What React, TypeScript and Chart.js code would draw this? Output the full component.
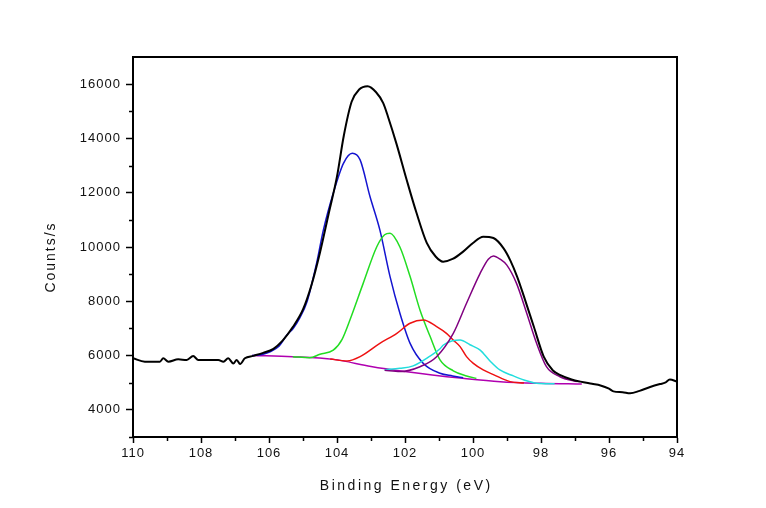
import React, { useEffect, useRef } from 'react';
import { Chart, registerables } from 'chart.js';

Chart.register(...registerables);

// ---- axis ticks ----
const xTickValues = [110, 108, 106, 104, 102, 100, 98, 96, 94];
const xMinorTicks = [109, 107, 105, 103, 101, 99, 97, 95];
const yTickValues = [4000, 6000, 8000, 10000, 12000, 14000, 16000];
const yMinorTicks = [3000, 5000, 7000, 9000, 11000, 13000, 15000];
const xTitle = 'Binding Energy (eV)';
const yTitle = 'Counts/s';

// ---- measured envelope (black) ----
const totalEnergy = [110.0, 109.65, 109.21, 109.11, 108.96, 108.67, 108.42, 108.23, 108.08, 107.8, 107.49, 107.34, 107.2, 107.05, 106.95, 106.85, 106.71, 106.46, 106.17, 105.87, 105.6, 105.3, 105.0, 104.75, 104.5, 104.25, 104.0, 103.8, 103.57, 103.35, 103.1, 102.85, 102.64, 102.5, 102.25, 101.95, 101.66, 101.36, 101.1, 100.88, 100.6, 100.29, 100.0, 99.7, 99.4, 99.1, 98.9, 98.7, 98.5, 98.21, 97.92, 97.65, 97.43, 97.1, 96.84, 96.5, 96.25, 96.0, 95.87, 95.6, 95.38, 95.1, 94.79, 94.5, 94.35, 94.21, 94.0];
const totalCounts = [5900, 5775, 5775, 5900, 5775, 5860, 5840, 5980, 5840, 5840, 5840, 5775, 5900, 5710, 5840, 5690, 5900, 5990, 6100, 6250, 6550, 7050, 7700, 8600, 9800, 11200, 12600, 14100, 15350, 15800, 15920, 15700, 15300, 14800, 13800, 12470, 11250, 10150, 9650, 9460, 9560, 9830, 10150, 10380, 10330, 9950, 9500, 8900, 8170, 7060, 5960, 5450, 5280, 5120, 5040, 4960, 4900, 4780, 4680, 4650, 4610, 4700, 4840, 4950, 5000, 5120, 5040];

// ---- fitted components ----
const blueEnergy = [106.5, 106.2, 105.97, 105.7, 105.48, 105.29, 105.09, 104.89, 104.6, 104.4, 104.11, 103.81, 103.55, 103.32, 103.03, 102.74, 102.44, 102.15, 101.85, 101.46, 100.97, 100.6, 100.29];
const blueCounts = [6000, 6040, 6140, 6350, 6750, 7000, 7400, 7950, 9400, 10630, 11980, 13080, 13450, 13210, 11860, 10630, 8910, 7560, 6450, 5710, 5350, 5250, 5180];

const greenEnergy = [105.3, 104.8, 104.5, 104.11, 103.85, 103.62, 103.23, 102.83, 102.6, 102.44, 102.15, 101.85, 101.56, 101.26, 100.97, 100.58, 100.19, 99.9];
const greenCounts = [5960, 5920, 6050, 6200, 6600, 7310, 8660, 10010, 10450, 10510, 10000, 8910, 7680, 6700, 5840, 5440, 5250, 5160];

const redEnergy = [104.2, 103.7, 103.32, 102.74, 102.24, 101.85, 101.46, 101.07, 100.78, 100.58, 100.38, 100.19, 99.99, 99.7, 99.4, 98.91, 98.5];
const redCounts = [5870, 5800, 5960, 6450, 6820, 7190, 7310, 7070, 6820, 6570, 6330, 5960, 5710, 5470, 5300, 5040, 4990];

const cyanEnergy = [102.6, 102.15, 101.76, 101.3, 100.97, 100.88, 100.6, 100.38, 100.09, 99.79, 99.5, 99.21, 98.81, 98.5, 98.13, 97.6];
const cyanCounts = [5480, 5530, 5620, 5950, 6250, 6380, 6550, 6570, 6400, 6200, 5800, 5470, 5250, 5100, 4980, 4960];

const purpleEnergy = [102.6, 102.15, 101.56, 101.07, 100.58, 100.19, 99.79, 99.55, 99.4, 99.2, 99.01, 98.72, 98.42, 98.13, 97.84, 97.44, 96.95];
const purpleCounts = [5460, 5410, 5590, 5960, 6820, 7930, 9030, 9550, 9670, 9550, 9340, 8660, 7560, 6450, 5590, 5220, 5040];

const baseEnergy = [106.5, 105.3, 104.1, 103.0, 102.0, 101.2, 100.3, 99.2, 98.0, 96.8];
const baseCounts = [6000, 5960, 5860, 5600, 5410, 5280, 5160, 5040, 4980, 4950];

const pts = (xs: number[], ys: number[]) => xs.map((x, i) => ({ x, y: ys[i] }));

const FONT = '"Liberation Sans", Arial, Helvetica, sans-serif';

const decor = {
  id: 'decor',
  beforeDraw(chart: any) {
    (chart.ctx as any).letterSpacing = '1px';
  },
  afterDraw(chart: any) {
    const { ctx, chartArea: a, scales } = chart;
    ctx.save();
    (ctx as any).letterSpacing = '0px';
    ctx.strokeStyle = '#000';
    ctx.lineWidth = 2;
    ctx.beginPath();
    ctx.moveTo(a.left - 1, a.top);
    ctx.lineTo(a.right, a.top);
    ctx.lineTo(a.right, a.bottom);
    ctx.stroke();

    ctx.lineWidth = 1.5;
    ctx.beginPath();
    for (const v of xMinorTicks) {
      const px = Math.round(scales.x.getPixelForValue(v)) + 0.5;
      ctx.moveTo(px, a.bottom);
      ctx.lineTo(px, a.bottom + 4);
    }
    for (const v of yMinorTicks) {
      const py = Math.round(scales.y.getPixelForValue(v)) + 0.5;
      ctx.moveTo(a.left, py);
      ctx.lineTo(a.left - 4, py);
    }
    ctx.stroke();

    ctx.fillStyle = '#111';
    ctx.textAlign = 'center';
    ctx.textBaseline = 'middle';
    ctx.font = '14px ' + FONT;
    (ctx as any).letterSpacing = '2.5px';
    ctx.fillText(xTitle, (a.left + a.right) / 2 + 1.25, a.bottom + 49);

    ctx.translate(a.left - 82, (a.top + a.bottom) / 2 + 11);
    ctx.rotate(-Math.PI / 2);
    (ctx as any).letterSpacing = '2px';
    ctx.fillText(yTitle, 1, 0);
    ctx.restore();
    (ctx as any).letterSpacing = '0px';
  },
};

export default function App() {
  const ref = useRef<HTMLCanvasElement>(null);

  useEffect(() => {
    if (!ref.current) return;
    Chart.defaults.font.family = FONT;
    const line = (data: any, color: string, width: number) => ({
      data,
      borderColor: color,
      backgroundColor: color,
      borderWidth: width,
      pointRadius: 0,
      fill: false,
      cubicInterpolationMode: 'monotone' as const,
    });
    const chart = new Chart(ref.current, {
      type: 'line',
      data: {
        datasets: [
          line(pts(totalEnergy, totalCounts), '#000000', 2),
          line(pts(purpleEnergy, purpleCounts), '#800080', 1.5),
          line(pts(cyanEnergy, cyanCounts), '#22dddd', 1.5),
          line(pts(redEnergy, redCounts), '#ee1111', 1.5),
          line(pts(greenEnergy, greenCounts), '#22dd22', 1.5),
          line(pts(blueEnergy, blueCounts), '#1414d0', 1.5),
          line(pts(baseEnergy, baseCounts), '#b000b0', 1.5),
        ],
      },
      options: {
        animation: false,
        responsive: true,
        maintainAspectRatio: false,
        layout: { padding: { top: 57, right: 89, left: 0, bottom: 0 } },
        plugins: { legend: { display: false }, tooltip: { enabled: false } },
        scales: {
          x: {
            type: 'linear',
            min: 94,
            max: 110,
            reverse: true,
            afterBuildTicks: (s: any) => { s.ticks = xTickValues.map((v) => ({ value: v })); },
            afterFit: (s: any) => { s.height = 71; },
            ticks: { color: '#111', font: { size: 13 }, padding: 3, maxRotation: 0, autoSkip: false, callback: (v: any) => String(v) },
            grid: { drawOnChartArea: false, tickLength: 6, tickColor: '#000', tickWidth: 1.5 },
            border: { color: '#000', width: 2 },
          },
          y: {
            type: 'linear',
            min: 3000,
            max: 17000,
            afterBuildTicks: (s: any) => { s.ticks = yTickValues.map((v) => ({ value: v })); },
            afterFit: (s: any) => { s.width = 133; },
            ticks: { color: '#111', font: { size: 13 }, padding: 5, autoSkip: false, callback: (v: any) => String(v) },
            grid: { drawOnChartArea: false, tickLength: 7, tickColor: '#000', tickWidth: 1.5 },
            border: { color: '#000', width: 2 },
          },
        },
      },
      plugins: [decor],
    });
    return () => chart.destroy();
  }, []);

  return (
    <div style={{ position: 'absolute', left: 0, top: 0, width: 766, height: 508, background: '#fff' }}>
      <canvas ref={ref} />
    </div>
  );
}
